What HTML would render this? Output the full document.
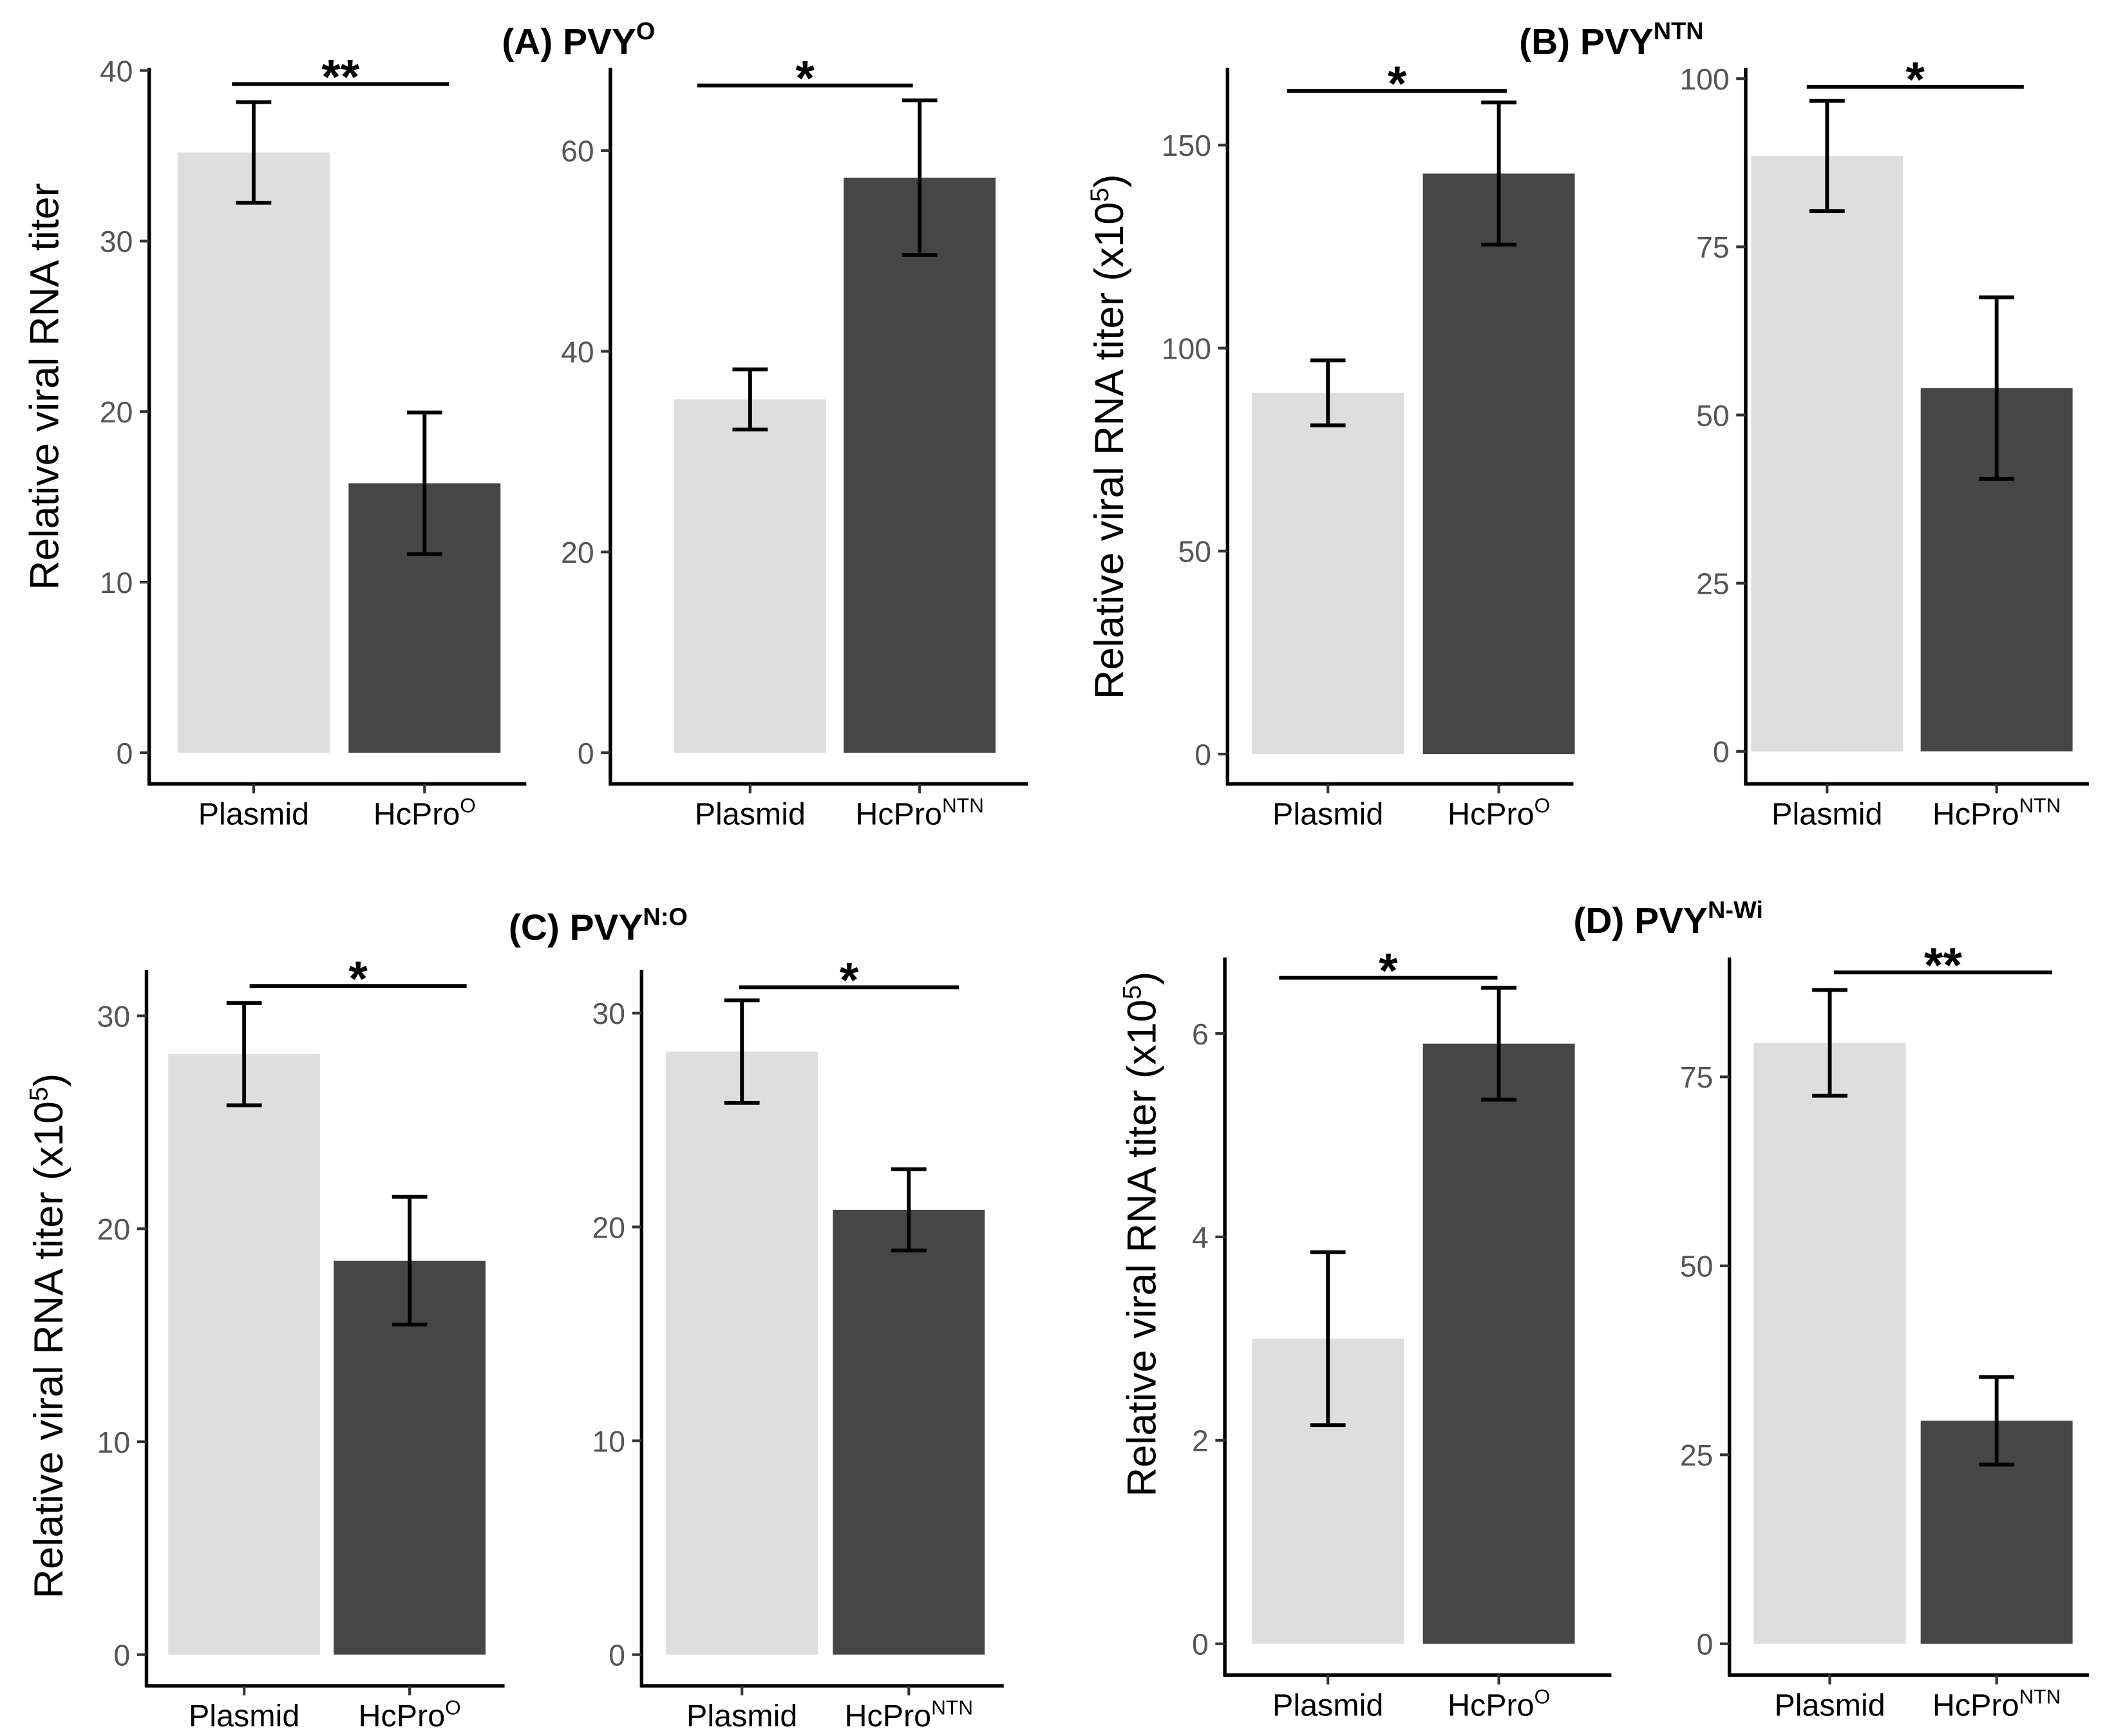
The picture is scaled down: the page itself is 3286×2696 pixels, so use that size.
<!DOCTYPE html>
<html><head><meta charset="utf-8"><style>
html,body{margin:0;padding:0;background:#fff}
svg{display:block}
text{font-family:"Liberation Sans",Arial,sans-serif}
</style></head><body>
<svg id="fig" width="3286" height="2696" viewBox="0 0 1560 1280" preserveAspectRatio="none" xmlns="http://www.w3.org/2000/svg"></svg>
<script>
const categories = ["Plasmid", "HcPro"];
const valsA1 = [35.2, 15.8];  const errA1 = [2.95, 4.15];
const valsA2 = [35.2, 57.3];  const errA2 = [3.0, 7.7];
const valsB1 = [89, 143];     const errB1 = [8, 17.5];
const valsB2 = [88.5, 54];    const errB2 = [8.2, 13.5];
const valsC1 = [28.2, 18.5];  const errC1 = [2.4, 3.0];
const valsC2 = [28.2, 20.8];  const errC2 = [2.4, 1.9];
const valsD1 = [3.0, 5.9];    const errD1 = [0.85, 0.55];
const valsD2 = [79.5, 29.5];  const errD2 = [7.0, 5.8];
const ticksA1 = [0,10,20,30,40];
const ticksA2 = [0,20,40,60];
const ticksB1 = [0,50,100,150];
const ticksB2 = [0,25,50,75,100];
const ticksC1 = [0,10,20,30];
const ticksC2 = [0,10,20,30];
const ticksD1 = [0,2,4,6];
const ticksD2 = [0,25,50,75];
const sigA1="**", sigA2="*", sigB1="*", sigB2="*", sigC1="*", sigC2="*", sigD1="*", sigD2="**";

const NS="http://www.w3.org/2000/svg";
const svg=document.getElementById('fig');
function el(tag,attrs,parent){const e=document.createElementNS(NS,tag);for(const k in attrs)e.setAttribute(k,attrs[k]);(parent||svg).appendChild(e);return e;}

const panels=[
 {id:'a1',vals:valsA1,err:errA1,ticks:ticksA1,sig:sigA1,ax:110,top:50,bot:578,right:388,p0:555,pr:52,rv:40,cx:[187,313],sigY:62,sigX:[171,331],sup:'O'},
 {id:'a2',vals:valsA2,err:errA2,ticks:ticksA2,sig:sigA2,ax:450,top:50,bot:578,right:758,p0:555,pr:111,rv:60,cx:[553,678],sigY:63,sigX:[514,673],sup:'NTN'},
 {id:'b1',vals:valsB1,err:errB1,ticks:ticksB1,sig:sigB1,ax:905,top:50,bot:578,right:1160,p0:556,pr:107,rv:150,cx:[979,1105],sigY:67,sigX:[949,1111],sup:'O'},
 {id:'b2',vals:valsB2,err:errB2,ticks:ticksB2,sig:sigB2,ax:1287,top:50,bot:578,right:1540,p0:554,pr:58,rv:100,cx:[1347,1472],sigY:64,sigX:[1332,1492],sup:'NTN'},
 {id:'c1',vals:valsC1,err:errC1,ticks:ticksC1,sig:sigC1,ax:108,top:715,bot:1243,right:372,p0:1220,pr:749,rv:30,cx:[180,302],sigY:727,sigX:[184,344],sup:'O'},
 {id:'c2',vals:valsC2,err:errC2,ticks:ticksC2,sig:sigC2,ax:473,top:715,bot:1243,right:740,p0:1220,pr:747,rv:30,cx:[547,670],sigY:728,sigX:[545,707],sup:'NTN'},
 {id:'d1',vals:valsD1,err:errD1,ticks:ticksD1,sig:sigD1,ax:903,top:706,bot:1235,right:1188,p0:1212,pr:762,rv:6,cx:[979,1105],sigY:721,sigX:[943,1104],sup:'O'},
 {id:'d2',vals:valsD2,err:errD2,ticks:ticksD2,sig:sigD2,ax:1275,top:706,bot:1235,right:1540,p0:1212,pr:794,rv:75,cx:[1349,1472],sigY:717,sigX:[1352,1513],sup:'NTN'},
];
const barW=112, fills=['#dedede','#464646'];

panels.forEach(p=>{
  const g=el('g',{});
  
  
  const y=v=>p.p0+(p.pr-p.p0)*v/p.rv;
  p.vals.forEach((v,i)=>{
    const r=el('rect',{x:p.cx[i]-barW/2,y:y(v),width:barW,height:y(0)-y(v),fill:fills[i]},g);
    
    
    const lo=y(v-p.err[i]), hi=y(v+p.err[i]);
    const eg=el('g',{stroke:'#000','stroke-width':2.8,fill:'none'},g);
    
    
    el('line',{x1:p.cx[i],x2:p.cx[i],y1:lo,y2:hi},eg);
    el('line',{x1:p.cx[i]-13,x2:p.cx[i]+13,y1:lo,y2:lo},eg);
    el('line',{x1:p.cx[i]-13,x2:p.cx[i]+13,y1:hi,y2:hi},eg);
  });
  const ya=el('line',{x1:p.ax,x2:p.ax,y1:p.top,y2:p.bot+1,stroke:'#000','stroke-width':2.6},g);
  
  
  const xa=el('line',{x1:p.ax-1,x2:p.right,y1:p.bot,y2:p.bot,stroke:'#000','stroke-width':2.6},g);
  
  
  p.ticks.forEach(t=>{
    const ty=y(t);
    el('line',{x1:p.ax-7,x2:p.ax,y1:ty,y2:ty,stroke:'#333','stroke-width':2},g);
    const tx=el('text',{x:p.ax-12,y:ty+8,'text-anchor':'end','font-size':22,fill:'#555'},g);
    tx.textContent=t;
    
    
  });
  p.cx.forEach((c,i)=>{
    el('line',{x1:c,x2:c,y1:p.bot,y2:p.bot+7,stroke:'#333','stroke-width':2},g);
    const tx=el('text',{x:c,y:p.bot+30,'text-anchor':'middle','font-size':23,fill:'#000'},g);
    
    
    if(i===0){tx.textContent=categories[0];}
    else{
      tx.textContent=categories[1];
      const s=el('tspan',{'font-size':15,dy:-9},tx); s.textContent=p.sup;
    }
  });
  const sl=el('line',{x1:p.sigX[0],x2:p.sigX[1],y1:p.sigY,y2:p.sigY,stroke:'#000','stroke-width':2.8},g);
  
  
  const st=el('text',{x:(p.sigX[0]+p.sigX[1])/2,y:p.sigY+7,'text-anchor':'middle','font-size':36,'font-weight':'bold',fill:'#000'},g);
  st.textContent=p.sig;
  
  
});

function ytitle(x,y,exp,name){
  const t=el('text',{x:0,y:0,transform:`translate(${x},${y}) rotate(-90)`,'text-anchor':'middle','font-size':30,fill:'#000'});
  
  
  if(!exp){t.textContent='Relative viral RNA titer';return;}
  t.appendChild(document.createTextNode('Relative viral RNA titer (x10'));
  const s=el('tspan',{'font-size':19,dy:-11},t); s.textContent='5';
  const e=el('tspan',{dy:11},t); e.textContent=')';
}
ytitle(43,285,false,'y-axis-title-a');
ytitle(828,322,true,'y-axis-title-b');
ytitle(46,985,true,'y-axis-title-c');
ytitle(852,910,true,'y-axis-title-d');

function ptitle(x,y,main,sup,name){
  const t=el('text',{x:x,y:y,'font-size':27,'font-weight':'bold',fill:'#000'});
  
  
  t.appendChild(document.createTextNode(main));
  const s=el('tspan',{'font-size':18,dy:-11},t); s.textContent=sup;
}
ptitle(370,40,'(A) PVY','O','title-a');
ptitle(1120,40,'(B) PVY','NTN','title-b');
ptitle(375,693,'(C) PVY','N:O','title-c');
ptitle(1160,688,'(D) PVY','N-Wi','title-d');
</script>
</body></html>
